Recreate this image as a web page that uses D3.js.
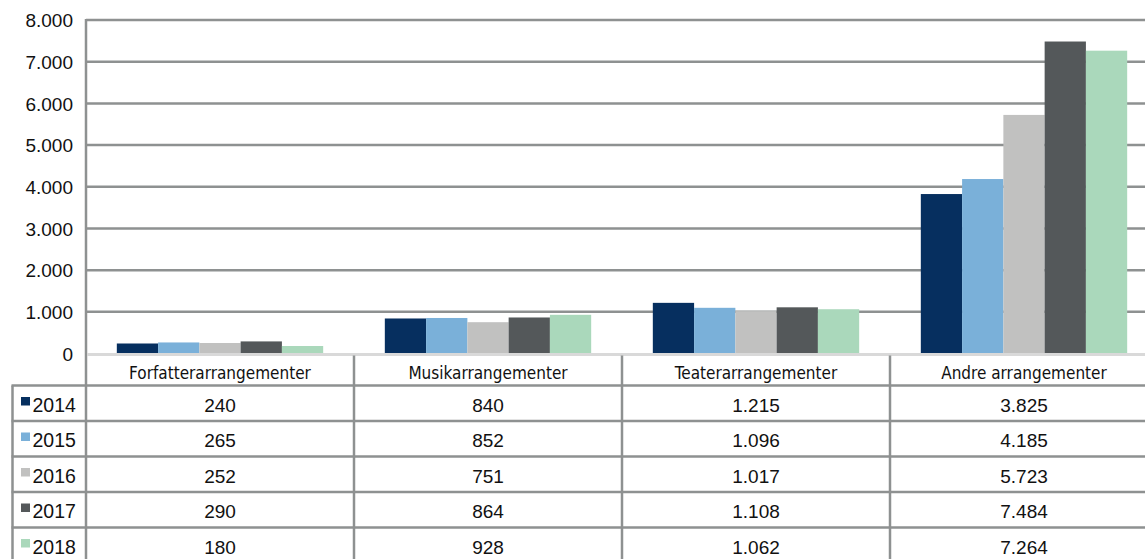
<!DOCTYPE html>
<html>
<head>
<meta charset="utf-8">
<script src="https://cdn.jsdelivr.net/npm/d3@7"></script>
<style>
html,body{margin:0;padding:0;background:#fff;overflow:hidden;}
svg{display:block;}
</style>
</head>
<body>
<svg id="chart" width="1145" height="559"></svg>
<script>
const categories = ["Forfatterarrangementer", "Musikarrangementer", "Teaterarrangementer", "Andre arrangementer"];
const years = ["2014", "2015", "2016", "2017", "2018"];
const colors = ["#062f5f", "#7ab0d9", "#c1c1c0", "#54585a", "#aad8bb"];
const v2014 = [240, 840, 1215, 3825];
const v2015 = [265, 852, 1096, 4185];
const v2016 = [252, 751, 1017, 5723];
const v2017 = [290, 864, 1108, 7484];
const v2018 = [180, 928, 1062, 7264];
const yTicks = [0, 1000, 2000, 3000, 4000, 5000, 6000, 7000, 8000];

const seriesValues = [v2014, v2015, v2016, v2017, v2018];
const series = years.map((y, i) => ({year: y, color: colors[i], values: seriesValues[i]}));

const loc = d3.formatLocale({decimal: ",", thousands: ".", grouping: [3], currency: ["", " kr"]});
const fmt = loc.format(",d");

const svg = d3.select("#chart");
const W = 1145;
const plotLeft = 86, plotRight = 1158, plotTop = 20, plotBottom = 353.5;
const lineColor = "#8e9191";
const numFont = "'Liberation Sans', Arial, sans-serif";
const numSize = 19;

const x0 = d3.scaleBand().domain(categories).range([plotLeft, plotRight]).paddingInner(0.23).paddingOuter(0.115);
const xStep = d3.scaleBand().domain(categories).range([plotLeft, plotRight]).padding(0);
const x1 = d3.scaleBand().domain(years).range([0, x0.bandwidth()]).padding(0);
const y = d3.scaleLinear().domain([0, 8000]).range([plotBottom, plotTop]);

// gridlines
svg.append("g").selectAll("line").data(yTicks.filter(d => d > 0)).join("line")
  .attr("x1", plotLeft).attr("x2", W)
  .attr("y1", d => y(d)).attr("y2", d => y(d))
  .attr("stroke", lineColor).attr("stroke-width", 2.5);

// y axis labels
const yAxis = d3.axisLeft(y).tickValues(yTicks).tickFormat(fmt).tickSize(0).tickPadding(13);
const ya = svg.append("g").attr("transform", `translate(${plotLeft},0)`).call(yAxis);
ya.select(".domain").remove();
ya.selectAll("text").attr("font-family", numFont)
  .attr("font-size", numSize).attr("fill", "#111").attr("dy", "0.36em");

// bars
const groups = svg.append("g").selectAll("g").data(series).join("g").attr("fill", d => d.color);
groups.selectAll("rect").data(s => s.values.map((v, i) => ({v, cat: categories[i], year: s.year}))).join("rect")
  .attr("x", d => x0(d.cat) + x1(d.year))
  .attr("width", x1.bandwidth())
  .attr("y", d => y(d.v))
  .attr("height", d => y(0) - y(d.v));

// y axis line
svg.append("line").attr("x1", plotLeft).attr("x2", plotLeft).attr("y1", plotTop - 1).attr("y2", 559)
  .attr("stroke", lineColor).attr("stroke-width", 2.5);

// baseline
svg.append("line").attr("x1", plotLeft + 1).attr("x2", W).attr("y1", y(0) + 1).attr("y2", y(0) + 1)
  .attr("stroke", "#d9d9d9").attr("stroke-width", 3);

// data table
const headerBottom = 385.5;
const rowH = 35.5;
const rowY = d3.scaleBand().domain(years).range([headerBottom, headerBottom + rowH * years.length]);
const tableLeft = 12.5;

// vertical separators
svg.append("g").selectAll("line").data(categories.slice(1)).join("line")
  .attr("x1", d => xStep(d)).attr("x2", d => xStep(d))
  .attr("y1", y(0) + 2).attr("y2", 559)
  .attr("stroke", lineColor).attr("stroke-width", 2.5);
svg.append("line").attr("x1", tableLeft).attr("x2", tableLeft).attr("y1", headerBottom).attr("y2", 559)
  .attr("stroke", lineColor).attr("stroke-width", 2.5);

// horizontal lines
svg.append("g").selectAll("line").data(years).join("line")
  .attr("x1", tableLeft - 1).attr("x2", W)
  .attr("y1", d => rowY(d)).attr("y2", d => rowY(d))
  .attr("stroke", lineColor).attr("stroke-width", 2.5);

// category headers
svg.append("g").selectAll("text").data(categories).join("text")
  .attr("x", d => xStep(d) + xStep.bandwidth() / 2)
  .attr("y", 378.5)
  .attr("text-anchor", "middle")
  .attr("font-family", "'DejaVu Sans Condensed', 'DejaVu Sans', sans-serif")
  .attr("font-stretch", "condensed")
  .attr("font-size", 17)
  .attr("fill", "#111")
  .text(d => d);

// rows
const rows = svg.append("g").selectAll("g").data(series).join("g")
  .attr("transform", d => `translate(0,${rowY(d.year)})`);
rows.append("rect").attr("x", 21).attr("y", 11.5).attr("width", 9).attr("height", 8.5).attr("fill", d => d.color);
rows.append("text").attr("x", 32.5).attr("y", 26)
  .attr("font-family", numFont).attr("font-size", 19.5).attr("fill", "#111")
  .text(d => d.year);
rows.selectAll("text.val").data(d => d.values.map((v, i) => ({v, cat: categories[i]}))).join("text")
  .attr("class", "val")
  .attr("x", d => xStep(d.cat) + xStep.bandwidth() / 2)
  .attr("y", 26)
  .attr("text-anchor", "middle")
  .attr("font-family", numFont).attr("font-size", numSize).attr("fill", "#111")
  .text(d => fmt(d.v));
</script>
</body>
</html>
